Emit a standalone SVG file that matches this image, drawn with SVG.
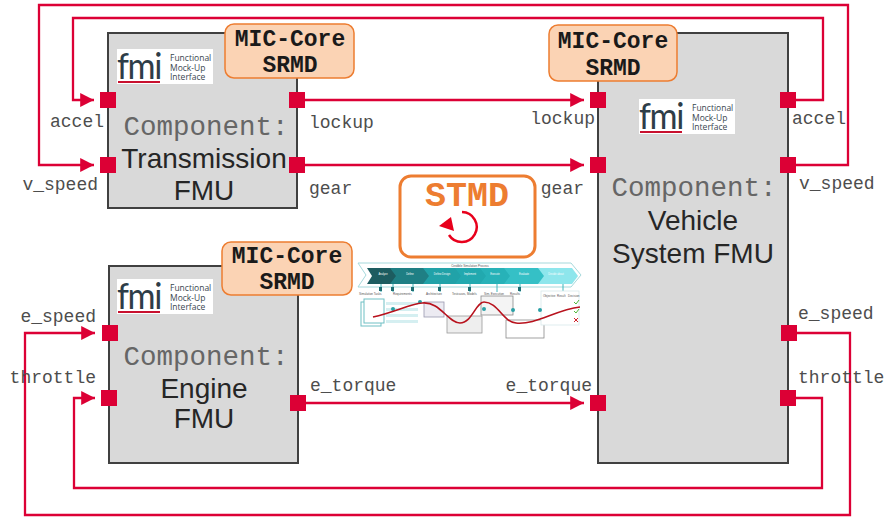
<svg xmlns="http://www.w3.org/2000/svg" xmlns:xlink="http://www.w3.org/1999/xlink" width="889" height="518" viewBox="0 0 889 518">
  <style>
    .fmu { fill: #d9d9d9; stroke: #404040; stroke-width: 2; }
    .port { fill: #dc0035; }
    .wire { fill: none; stroke: #dc0035; stroke-width: 2.3; }
    .lbl { font-family: "Liberation Mono", "Courier New", monospace; font-size: 18px; fill: #4d4d4d; }
    .comp { font-family: "Liberation Mono", "Courier New", monospace; font-size: 27.5px; fill: #666666; }
    .name { font-family: "Liberation Sans", Arial, sans-serif; font-size: 28px; fill: #262626; }
    .srmd rect { fill: #fbd3b4; stroke: #ed7d31; stroke-width: 1.5; }
    .srmd text { font-family: "Liberation Mono", "Courier New", monospace; font-size: 23px; font-weight: bold; fill: #1a1a1a; text-anchor: middle; }
    .tiny { font-family: "Liberation Sans", Arial, sans-serif; font-size: 2.6px; fill: #ffffff; text-anchor: middle; }
    .tinyd { font-family: "Liberation Sans", Arial, sans-serif; font-size: 3px; fill: #555555; }
  </style>
  <defs>
    <marker id="arr" viewBox="0 0 10 10" refX="10" refY="5" markerWidth="6" markerHeight="6" orient="auto" markerUnits="strokeWidth">
      <path d="M0,0 L10,5 L0,10 z" fill="#dc0035"/>
    </marker>
    <!-- FMI logo, 96 x 35 -->
    <g id="fmiLogo">
      <rect x="0" y="0" width="96" height="35" fill="#ffffff"/>
      <text x="0" y="30" font-family="Lato, 'Open Sans', sans-serif" font-size="37" fill="#2e3d48" letter-spacing="-1.5" textLength="44" lengthAdjust="spacingAndGlyphs">fmi</text>
      <rect x="1" y="32" width="42" height="2" fill="#c8102e"/>
      <text x="53" y="12" font-family="'Open Sans', 'Liberation Sans', sans-serif" font-size="8.5" fill="#3a4650">Functional</text>
      <text x="53" y="21.5" font-family="'Open Sans', 'Liberation Sans', sans-serif" font-size="8.5" fill="#3a4650">Mock-Up</text>
      <text x="53" y="31" font-family="'Open Sans', 'Liberation Sans', sans-serif" font-size="8.5" fill="#3a4650">Interface</text>
    </g>
  </defs>

  <rect width="889" height="518" fill="#ffffff"/>

  <!-- connectors -->
  <g id="connectors">
    <path class="wire" d="M297,100 H584" marker-end="url(#arr)"/>
    <path class="wire" d="M297,165 H584" marker-end="url(#arr)"/>
    <path class="wire" d="M298,403 H584" marker-end="url(#arr)"/>
    <!-- accel: vehicle -> transmission -->
    <path class="wire" d="M796,100 H823 V18 H73 V100 H94" marker-end="url(#arr)"/>
    <!-- v_speed: vehicle -> transmission -->
    <path class="wire" d="M796,165 H848 V5 H39 V165 H94" marker-end="url(#arr)"/>
    <!-- e_speed: vehicle -> engine -->
    <path class="wire" d="M796,333 H850 V515 H25 V333 H95" marker-end="url(#arr)"/>
    <!-- throttle: vehicle -> engine -->
    <path class="wire" d="M796,398 H822 V488 H74 V398 H95" marker-end="url(#arr)"/>
  </g>

  <!-- Transmission FMU -->
  <g id="transmission">
    <rect class="fmu" x="108" y="33" width="189" height="175"/>
    <use xlink:href="#fmiLogo" x="117" y="49"/>
    <text class="comp" x="206" y="135" text-anchor="middle">Component:</text>
    <text class="name" x="204" y="168" text-anchor="middle">Transmission</text>
    <text class="name" x="204" y="200" text-anchor="middle">FMU</text>
    <rect class="port" x="100" y="92" width="16" height="16"/>
    <rect class="port" x="100" y="157" width="16" height="16"/>
    <rect class="port" x="289" y="92" width="16" height="16"/>
    <rect class="port" x="289" y="157" width="16" height="16"/>
    <text class="lbl" x="104" y="127" text-anchor="end">accel</text>
    <text class="lbl" x="98" y="190" text-anchor="end">v_speed</text>
    <text class="lbl" x="309" y="128">lockup</text>
    <text class="lbl" x="309" y="194">gear</text>
  </g>
  <g id="srmd-transmission" class="srmd">
    <rect x="225" y="24" width="129" height="54" rx="9"/>
    <text x="290" y="46">MIC-Core</text>
    <text x="290" y="72">SRMD</text>
  </g>

  <!-- Engine FMU -->
  <g id="engine">
    <rect class="fmu" x="109" y="266" width="189" height="197"/>
    <use xlink:href="#fmiLogo" x="117" y="279"/>
    <text class="comp" x="206" y="365" text-anchor="middle">Component:</text>
    <text class="name" x="204" y="398" text-anchor="middle">Engine</text>
    <text class="name" x="204" y="428" text-anchor="middle">FMU</text>
    <rect class="port" x="102" y="325" width="16" height="16"/>
    <rect class="port" x="101" y="390" width="16" height="16"/>
    <rect class="port" x="290" y="395" width="16" height="16"/>
    <text class="lbl" x="96" y="322" text-anchor="end">e_speed</text>
    <text class="lbl" x="96" y="383" text-anchor="end">throttle</text>
    <text class="lbl" x="310" y="391">e_torque</text>
  </g>
  <g id="srmd-engine" class="srmd">
    <rect x="222" y="242" width="130" height="53" rx="9"/>
    <text x="287" y="263">MIC-Core</text>
    <text x="287" y="289">SRMD</text>
  </g>

  <!-- Vehicle System FMU -->
  <g id="vehicle">
    <rect class="fmu" x="598" y="33" width="190" height="430"/>
    <use xlink:href="#fmiLogo" x="639" y="99"/>
    <text class="comp" x="694" y="196" text-anchor="middle">Component:</text>
    <text class="name" x="693" y="230" text-anchor="middle">Vehicle</text>
    <text class="name" x="693" y="263" text-anchor="middle">System FMU</text>
    <rect class="port" x="590" y="92" width="16" height="16"/>
    <rect class="port" x="590" y="157" width="16" height="16"/>
    <rect class="port" x="590" y="395" width="16" height="16"/>
    <rect class="port" x="780" y="92" width="16" height="16"/>
    <rect class="port" x="780" y="157" width="16" height="16"/>
    <rect class="port" x="781" y="325" width="16" height="16"/>
    <rect class="port" x="780" y="390" width="16" height="16"/>
    <text class="lbl" x="595" y="124" text-anchor="end">lockup</text>
    <text class="lbl" x="584" y="194" text-anchor="end">gear</text>
    <text class="lbl" x="592" y="391" text-anchor="end">e_torque</text>
    <text class="lbl" x="792" y="124">accel</text>
    <text class="lbl" x="799" y="189">v_speed</text>
    <text class="lbl" x="798" y="319">e_speed</text>
    <text class="lbl" x="798" y="383">throttle</text>
  </g>
  <g id="srmd-vehicle" class="srmd">
    <rect x="549" y="25" width="128" height="56" rx="9"/>
    <text x="613" y="48">MIC-Core</text>
    <text x="613" y="75">SRMD</text>
  </g>

  <!-- STMD -->
  <g id="stmd">
    <rect x="400" y="176" width="135" height="81" rx="11" fill="#ffffff" stroke="#ed7d31" stroke-width="3"/>
    <text x="467" y="206" text-anchor="middle" font-family="'Liberation Mono', 'Courier New', monospace" font-size="35" font-weight="bold" fill="#ed7d31">STMD</text>
    <path d="M462,212 A15,15 0 1 1 449,235" fill="none" stroke="#e8001c" stroke-width="2.5"/>
    <path d="M439,226 L451,217 L454,231 z" fill="#e8001c"/>
  </g>

  <!-- credible simulation process sketch -->
  <g id="process">
    <polygon points="358,263 571,263 581,275 571,287 358,287 366,275" fill="#ffffff" stroke="#a6d9dc" stroke-width="1"/>
    <text x="470" y="266.5" class="tinyd" text-anchor="middle" font-size="2.6">Credible Simulation Process</text>
    <polygon points="367,268 391,268 397,276 391,284 367,284 372,276" fill="#1d5c60"/>
    <polygon points="390,268 424,268 430,276 424,284 390,284 396,276" fill="#1f7f84"/>
    <polygon points="423,268 456,268 462,276 456,284 423,284 429,276" fill="#21a2a8"/>
    <polygon points="455,268 481,268 487,276 481,284 455,284 461,276" fill="#22a9af"/>
    <polygon points="480,268 505,268 511,276 505,284 480,284 486,276" fill="#27b2b8"/>
    <polygon points="504,268 539,268 545,276 539,284 504,284 510,276" fill="#35c0c6"/>
    <polygon points="538,268 572,268 578,276 572,284 538,284 544,276" fill="#8ee6ec"/>
    <text class="tiny" x="383" y="275">Analyze</text>
    <text class="tiny" x="410" y="275">Define</text>
    <text class="tiny" x="442" y="275">Define Design</text>
    <text class="tiny" x="470" y="275">Implement</text>
    <text class="tiny" x="495" y="275">Execute</text>
    <text class="tiny" x="524" y="275">Evaluate</text>
    <text class="tiny" x="556" y="275" fill="#2b6e72">Decide about</text>

    <g stroke="#3fb6bc" stroke-width="1" fill="none">
      <path d="M381,284 V292 M393,284 V292 M413,284 V292 M440,284 V292 M470,284 V292 M497,284 V292 M520,284 V292 M563,284 V292"/>
    </g>
    <g fill="#1f6f74">
      <rect x="379" y="287" width="3" height="4"/>
      <rect x="391" y="287" width="3" height="4"/>
      <rect x="411" y="287" width="3" height="4"/>
      <rect x="438" y="287" width="3" height="4"/>
      <rect x="468" y="287" width="3" height="4"/>
      <rect x="518" y="287" width="3" height="4"/>
    </g>
    <g class="tinyd">
      <text x="359" y="295">Simulation Tasks</text>
      <text x="393" y="295">Requirements</text>
      <text x="426" y="295">Architecture</text>
      <text x="452" y="295">Testcases, Models</text>
      <text x="484" y="295">Sim. Execution</text>
      <text x="510" y="295">Results</text>
    </g>
    <!-- artefacts -->
    <rect x="361" y="302" width="20" height="24" fill="#ffffff" stroke="#6fbfc4" stroke-width="1"/>
    <rect x="364" y="299" width="20" height="24" fill="#ffffff" stroke="#6fbfc4" stroke-width="1"/>
    <g fill="#d5eff1">
      <rect x="386" y="302" width="32" height="3"/>
      <rect x="386" y="308" width="32" height="3"/>
      <rect x="386" y="314" width="32" height="3"/>
      <rect x="386" y="320" width="32" height="3"/>
    </g>
    <rect x="424" y="302" width="20" height="15" fill="#ecebf2" stroke="#9a98b0" stroke-width="0.8"/>
    <rect x="447" y="316" width="35" height="17" fill="#eeeeee" stroke="#9a9a9a" stroke-width="0.8"/>
    <rect x="481" y="296" width="32" height="19" fill="#f4f4f4" stroke="#8a8a8a" stroke-width="0.8"/>
    <rect x="506" y="320" width="38" height="18" fill="#ffffff" stroke="#8a8a8a" stroke-width="0.8"/>
    <rect x="541" y="291" width="38" height="34" fill="#ffffff" stroke="#d8e8ea" stroke-width="0.8"/>
    <g class="tinyd">
      <text x="543" y="297">Objective</text>
      <text x="557" y="297">Result</text>
      <text x="568" y="297">Decision</text>
    </g>
    <path d="M574,302 l2,2 l3,-4 M574,311 l2,2 l3,-4" stroke="#4fb83a" stroke-width="1" fill="none"/>
    <path d="M574,318 l4,4 M578,318 l-4,4" stroke="#d0202a" stroke-width="1" fill="none"/>
    <g fill="#2aa0a6">
      <circle cx="393" cy="309" r="2"/>
      <circle cx="420" cy="302" r="2"/>
      <circle cx="484" cy="309" r="2"/>
      <circle cx="513" cy="310" r="2"/>
      <circle cx="540" cy="310" r="2"/>
    </g>
    <path d="M373,317 C395,312 410,304 422,303 C440,301 448,323 460,323 C472,323 476,302 484,302 C498,302 503,322 516,323 C536,325 555,310 580,307" fill="none" stroke="#b8121d" stroke-width="1.6"/>
  </g>
</svg>
